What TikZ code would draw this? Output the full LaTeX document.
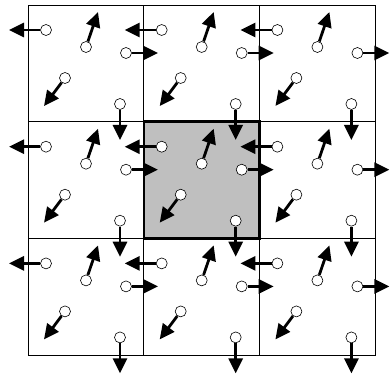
\documentclass[tikz,border=0pt]{standalone}
\usetikzlibrary{arrows.meta}
\begin{document}
\begin{tikzpicture}[x=1pt,y=-1pt,
   cell/.style={draw,line width=0.8pt},
   hot/.style={draw,line width=2.4pt,fill=black!25},
   part/.style={circle,draw,fill=white,line width=0.6pt,minimum size=11pt,inner sep=0pt},
   vel/.style={line width=2.8pt,-{Triangle[length=15pt,width=14pt]}}]
  \useasboundingbox (0,0) rectangle (390,374);
  % grid of cells, the middle one highlighted
  \foreach \i in {0,1,2} \foreach \j in {0,1,2}
    \draw[cell] (28+115.7*\i,5+116.7*\j) rectangle ++(115.7,116.7);
  \draw[hot] (143.7,121.7) rectangle ++(115.7,116.7);
  % five particles per cell with their velocities
  \foreach \i in {0,1,2} \foreach \j in {0,1,2} {
    \begin{scope}[shift={(28+115.7*\i,5+116.7*\j)}]
      \foreach \k/\px/\py/\tx/\ty in {1/18/25/-19/25, 2/58/42/70/7, 3/98/48/130/48,
                                      4/37/73/16/101, 5/92/99/92/135} {
        \node[part] (p-\i-\j-\k) at (\px,\py) {};
        \coordinate (v-\i-\j-\k) at (\tx,\ty);
        \draw[vel] (p-\i-\j-\k) -- (v-\i-\j-\k);
      }
    \end{scope}
  }
\end{tikzpicture}
\end{document}
